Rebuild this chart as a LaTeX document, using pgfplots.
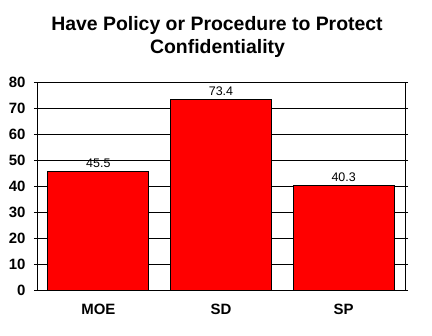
\documentclass[border=0pt]{standalone}
\usepackage{fontspec}
\setmainfont{Liberation Sans}
\usepackage{pgfplots}
\pgfplotsset{compat=1.18}
\begin{document}
\begin{tikzpicture}
\useasboundingbox (0,0) rectangle (432bp,336bp);
\node[anchor=base, font=\bfseries\fontsize{19.5}{23}\selectfont] at (217bp,305bp) {Have Policy or Procedure to Protect};
\node[anchor=base, font=\bfseries\fontsize{19.5}{23}\selectfont] at (217.5bp,282bp) {Confidentiality};
\begin{axis}[
  at={(37bp,46bp)}, anchor=south west,
  scale only axis, width=368bp, height=208bp,
  xmin=-0.5, xmax=2.5, ymin=0, ymax=80,
  ytick={0,10,...,80},
  xtick={0,1,2}, xticklabels={MOE,SD,SP},
  /pgf/number format/assume math mode=true,
  ymajorgrids, grid style={black, line width=1bp},
  axis line style={black, line width=1bp},
  major x tick style={draw=none},
  major y tick style={black, line width=1bp},
  tick align=outside, major tick length=3bp,
  yticklabel style={font=\bfseries\fontsize{15}{18}\selectfont, xshift=-5bp},
  xticklabel style={font=\bfseries\fontsize{15}{18}\selectfont, yshift=-8bp},
  ybar, bar width=101bp,
  nodes near coords={\pgfmathprintnumber[fixed,precision=1,fixed zerofill]{\pgfplotspointmeta}},
  every node near coord/.append style={font=\fontsize{12.5}{14}\selectfont, inner sep=0pt, anchor=south, text depth=0pt, yshift=3.5bp, black},
]
\addplot[fill={rgb,255:red,255;green,0;blue,0}, draw=black, line width=1bp] coordinates {(0,45.5) (1,73.4) (2,40.3)};
\end{axis}
\end{tikzpicture}
\end{document}
